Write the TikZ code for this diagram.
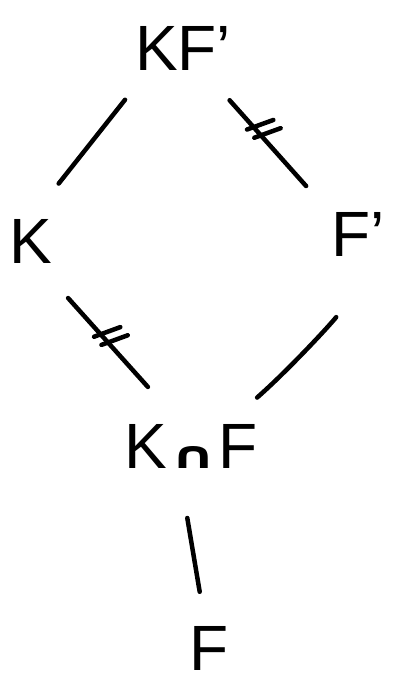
\documentclass[tikz,border=0pt]{standalone}
\usepackage{fontspec}
\setmainfont{Liberation Sans}
\newfontfamily\capfont{DejaVu Sans}[FakeStretch=1.5]
\usetikzlibrary{decorations.markings}

\begin{document}
\begin{tikzpicture}[
    x=1pt, y=-1pt,
    field/.style={font=\fontsize{64}{64}\selectfont, inner sep=0pt, text height=46pt, text depth=0pt},
    link/.style={line width=4.5pt, line cap=round},
    nontriv/.style={postaction={decorate, decoration={markings, mark=at position #1 with {
        \draw[link, shorten <=0pt, shorten >=0pt] (-5.5pt,0pt) ++(-2.6pt,-6.5pt) -- ++(10.4pt,26pt);
        \draw[link, shorten <=0pt, shorten >=0pt] (5.5pt,0pt) ++(-2.6pt,-6.5pt) -- ++(10.4pt,26pt);}}}}
]
\useasboundingbox (0,0) rectangle (398,682);

\node[field] (kf) at (183,48) {KF'};
\node[field] (k) at (31,240) {K};
\node[field] (fp) at (358,233) {F'};
\node[field] (kcapf) at (191,445) {K{\capfont\bfseries\fontsize{38}{38}\selectfont\kern3pt ∩\kern2pt}F};
\node[field] (f) at (209,647) {F};

\draw[link, shorten <=66pt, shorten >=72pt] ([xshift=-17pt]kf.center) -- ([xshift=-17pt]k.center);
\draw[link, nontriv=0.45, shorten <=70pt, shorten >=63pt] (kf.center) -- ([xshift=-10pt]fp.center);
\draw[link, nontriv=0.48, shorten <=78pt, shorten >=78pt] ([xshift=-15pt]k.center) -- ([xshift=9pt]kcapf.center);
\draw[link, shorten <=105pt, shorten >=72pt] ([xshift=41pt]fp.center) to[bend left=6] ([xshift=12pt]kcapf.center);
\draw[link, shorten <=74pt, shorten >=56pt] ([xshift=-16pt]kcapf.center) -- (f.center);
\end{tikzpicture}
\end{document}
